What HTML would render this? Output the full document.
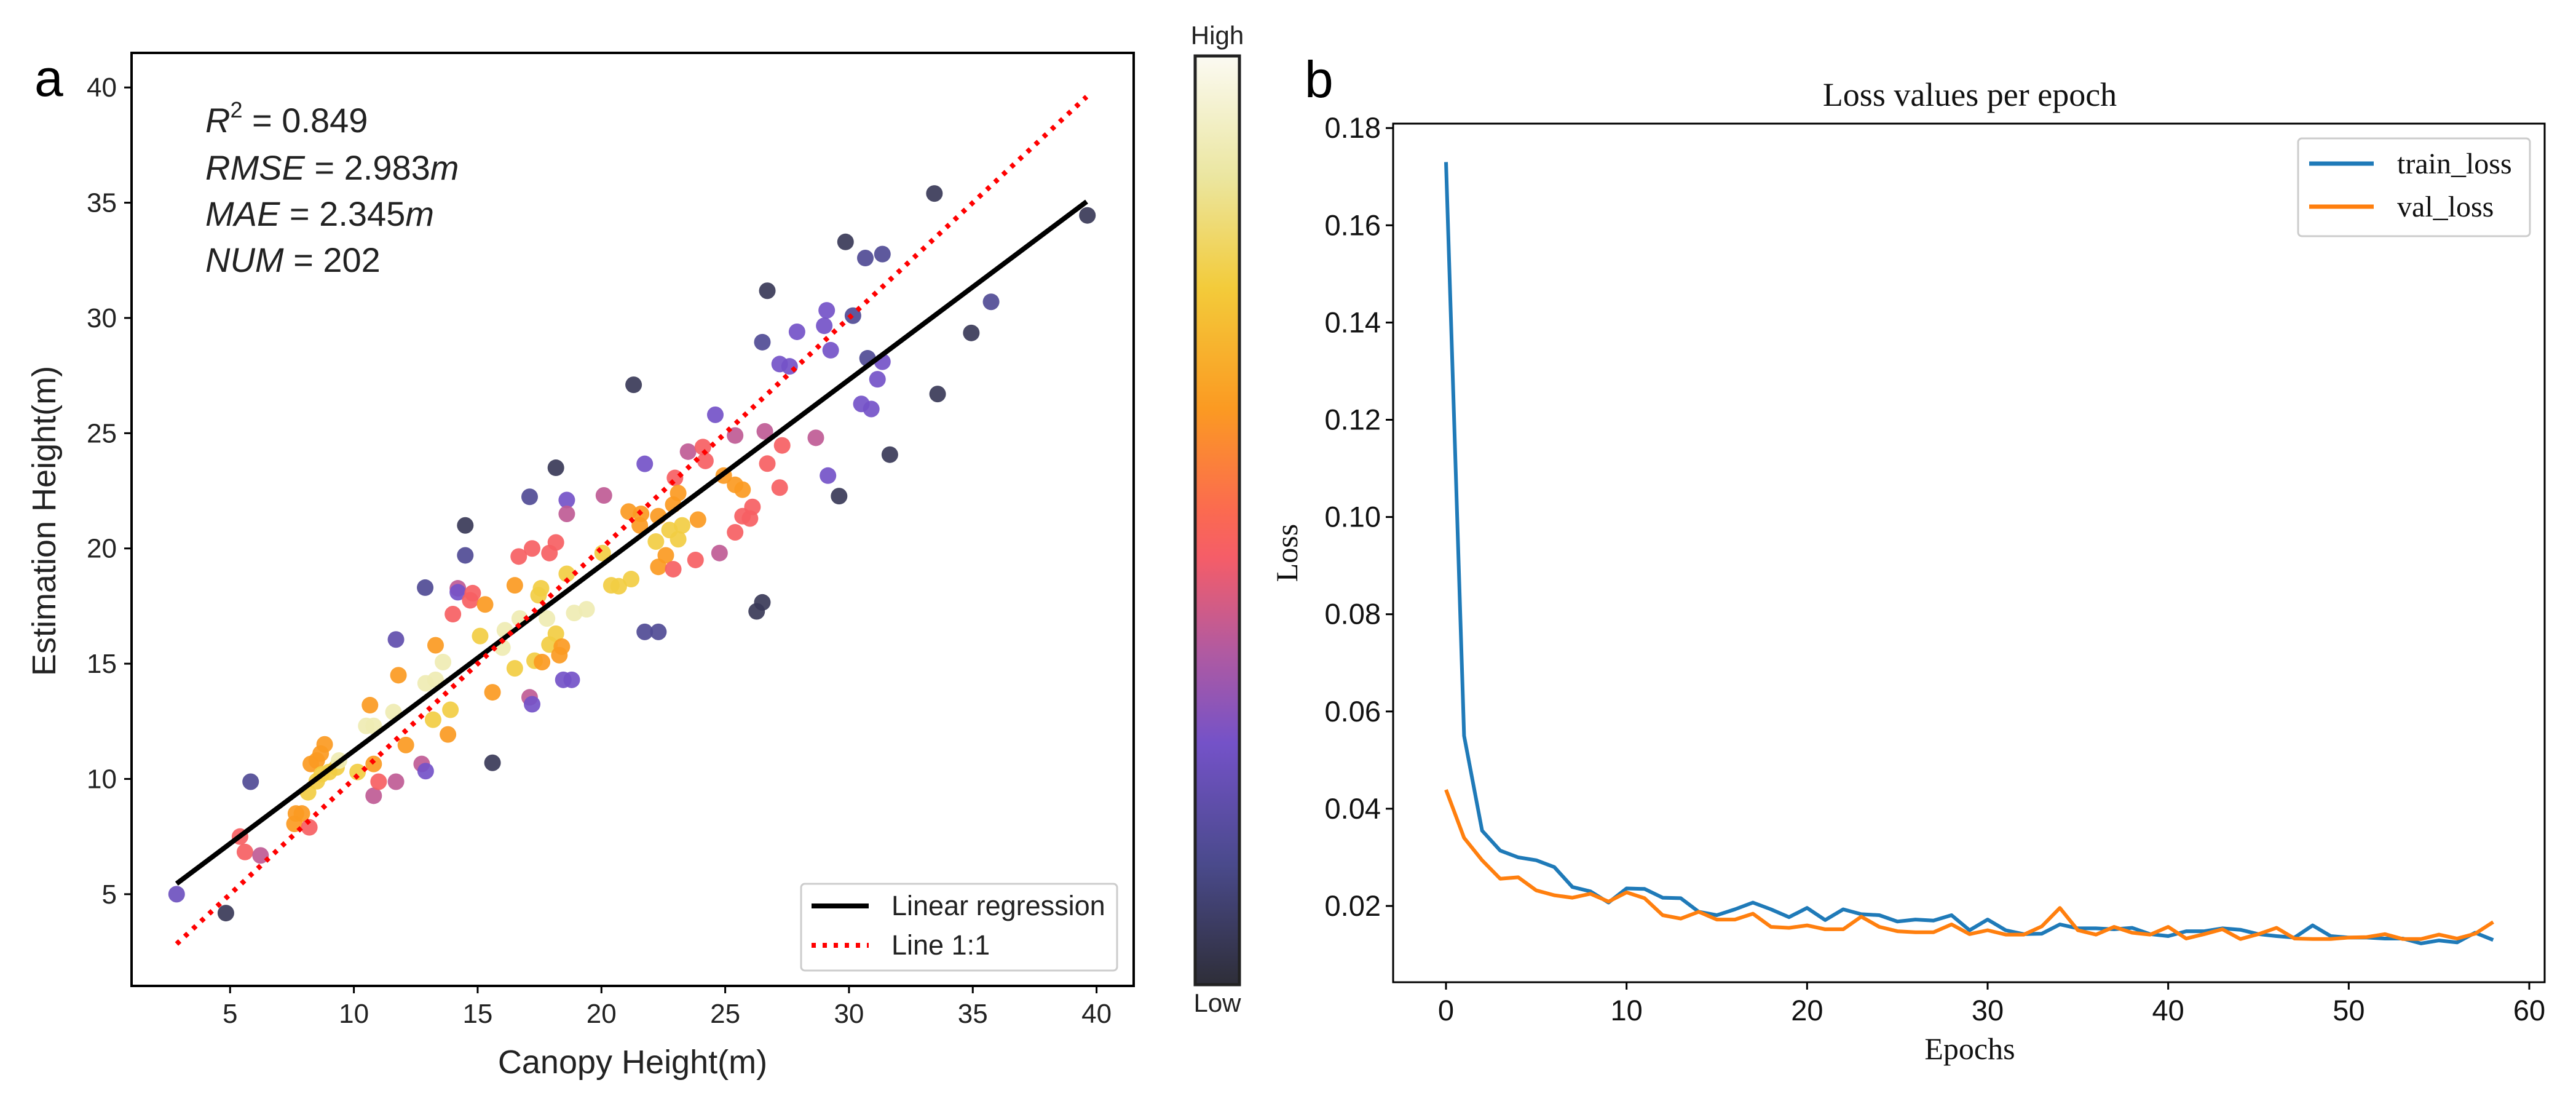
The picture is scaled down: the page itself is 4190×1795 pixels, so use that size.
<!DOCTYPE html>
<html><head><meta charset="utf-8">
<style>
html,body{margin:0;padding:0;background:#fff;}
svg{display:block;}
text{font-family:"Liberation Sans",sans-serif;}
.serif{font-family:"Liberation Serif",serif;}
</style></head>
<body>
<svg id="fig" width="4190" height="1795" viewBox="0 0 4190 1795" xmlns="http://www.w3.org/2000/svg">
<defs>
<linearGradient id="cmap" x1="0" y1="1" x2="0" y2="0">
<stop offset="0" stop-color="#2e2e38"/>
<stop offset="0.13" stop-color="#4a4a8c"/>
<stop offset="0.26" stop-color="#7452c8"/>
<stop offset="0.36" stop-color="#b25aa0"/>
<stop offset="0.46" stop-color="#f55d68"/>
<stop offset="0.51" stop-color="#fb6a50"/>
<stop offset="0.62" stop-color="#fb9a22"/>
<stop offset="0.75" stop-color="#f3cb3a"/>
<stop offset="0.87" stop-color="#ebe6a0"/>
<stop offset="1" stop-color="#fbfaf2"/>
</linearGradient>
</defs>
<g id="panelA"></g>
<g id="panelB"></g>
</svg>
<script>
// ---- Panel a data ----
const scatterX=[2.84,4.83,5.83,5.4,5.6,6.23,7.66,7.6,7.9,8.2,8.15,8.26,8.5,8.66,8.82,8.5,8.7,9.0,9.3,9.4,10.15,10.65,10.5,10.8,10.8,10.8,11.0,11.6,11.7,11.7,11.8,12.1,12.74,12.9,12.88,12.9,13.2,13.3,13.3,13.6,13.9,13.8,14.0,14.2,14.2,14.5,14.5,14.7,14.8,15.1,15.3,15.6,15.6,16.0,16.1,16.5,16.5,16.66,16.7,17.1,17.1,17.2,17.2,17.3,17.46,17.56,17.6,17.8,17.9,17.9,18.16,18.16,18.16,18.3,18.4,18.46,18.6,18.6,18.8,18.6,18.9,19.4,20.05,20.1,20.4,20.7,21.1,21.2,21.3,21.55,21.6,21.75,21.75,22.2,22.3,22.3,22.3,22.6,22.75,22.9,22.97,22.9,23.1,23.1,23.26,23.5,23.8,23.9,24.1,24.2,24.6,24.77,24.94,25.4,25.4,25.4,25.7,25.7,26.0,26.1,26.27,26.5,26.5,26.6,26.7,26.7,27.2,27.2,27.3,27.6,27.9,28.66,29.0,29.1,29.15,29.26,29.6,29.86,30.16,30.5,30.66,30.75,30.9,31.15,31.35,31.35,31.65,33.45,33.58,34.94,35.74,39.63];
const scatterY=[5.0,4.18,9.88,7.5,6.83,6.68,8.5,8.05,8.5,7.9,9.42,10.65,10.8,11.1,11.5,9.9,10.2,10.3,10.5,10.8,10.3,13.2,12.3,12.3,10.65,9.27,9.88,12.9,9.88,16.05,14.5,11.47,10.65,10.34,18.3,14.15,12.57,14.3,15.8,15.07,13.0,11.93,17.15,18.27,18.1,21.0,19.7,17.75,18.06,16.2,17.57,10.7,13.76,15.7,16.45,14.8,18.4,19.65,16.96,22.24,13.54,13.24,20.0,15.13,17.97,18.27,15.07,16.96,19.8,15.83,20.26,16.3,23.5,15.37,15.74,14.3,22.1,21.5,14.3,18.9,17.2,17.36,19.8,22.3,18.4,18.36,21.6,18.67,27.1,21.0,21.5,23.67,16.38,20.3,21.4,19.2,16.38,19.7,20.8,21.9,23.06,19.1,22.4,20.4,21.0,24.2,19.5,21.25,24.4,23.8,25.8,19.8,23.16,24.9,20.7,22.76,22.55,21.4,21.3,21.8,17.27,17.66,28.95,25.08,23.68,31.18,28.0,22.64,24.47,27.9,29.4,24.8,29.66,30.33,23.16,28.6,22.27,33.3,30.1,26.27,32.6,28.25,26.05,27.34,32.77,28.1,24.07,35.4,26.7,29.35,30.7,34.45];
const scatterC=[0.24,0.05,0.15,0.47,0.47,0.38,0.62,0.62,0.62,0.47,0.76,0.62,0.62,0.62,0.62,0.76,0.76,0.76,0.76,0.9,0.76,0.62,0.9,0.9,0.62,0.38,0.47,0.9,0.38,0.2,0.62,0.62,0.38,0.26,0.15,0.9,0.76,0.9,0.62,0.9,0.76,0.62,0.47,0.38,0.26,0.05,0.15,0.47,0.47,0.76,0.62,0.05,0.62,0.9,0.9,0.76,0.62,0.47,0.9,0.15,0.38,0.26,0.47,0.76,0.76,0.76,0.62,0.9,0.47,0.76,0.47,0.76,0.05,0.62,0.62,0.26,0.26,0.38,0.26,0.76,0.9,0.9,0.76,0.38,0.76,0.76,0.62,0.76,0.05,0.62,0.62,0.26,0.15,0.76,0.62,0.62,0.15,0.62,0.76,0.62,0.47,0.47,0.62,0.76,0.76,0.38,0.47,0.62,0.47,0.47,0.26,0.38,0.62,0.38,0.47,0.62,0.62,0.47,0.47,0.47,0.05,0.05,0.15,0.38,0.47,0.05,0.26,0.47,0.47,0.26,0.26,0.38,0.26,0.26,0.26,0.26,0.05,0.05,0.15,0.26,0.15,0.15,0.26,0.26,0.15,0.26,0.05,0.05,0.05,0.05,0.15,0.05];
const axisTicksA=[5,10,15,20,25,30,35,40];
const regSlope=0.805, regIntercept=3.17, regRange=[2.84,39.6];
const statLines=["R","RMSE","MAE","NUM"];
const statValues=["0.849","2.983","2.345","202"];

// ---- Panel b data ----
const trainLoss=[0.173,0.055,0.0355,0.0314,0.030,0.0294,0.028,0.0239,0.023,0.0207,0.0236,0.0235,0.0217,0.0216,0.0188,0.0181,0.0193,0.0207,0.0193,0.0177,0.0196,0.0171,0.0193,0.0183,0.0181,0.0168,0.0172,0.017,0.0181,0.015,0.0172,0.015,0.0142,0.0143,0.0162,0.0154,0.0154,0.0152,0.0155,0.0142,0.0138,0.0148,0.0148,0.0154,0.0151,0.0142,0.0138,0.0135,0.016,0.0138,0.0135,0.0135,0.0133,0.0133,0.0123,0.0129,0.0125,0.0145,0.013];
const valLoss=[0.0439,0.034,0.0294,0.0256,0.0259,0.0232,0.0222,0.0217,0.0225,0.0209,0.0228,0.0216,0.0181,0.0174,0.0188,0.0172,0.0172,0.0184,0.0157,0.0155,0.016,0.0152,0.0152,0.0178,0.0157,0.0148,0.0146,0.0146,0.0162,0.0142,0.015,0.0141,0.0141,0.0158,0.0196,0.015,0.0141,0.0157,0.0145,0.0141,0.0157,0.0133,0.0142,0.0152,0.0132,0.0142,0.0155,0.0133,0.0132,0.0132,0.0135,0.0136,0.0142,0.0132,0.0132,0.0141,0.0133,0.0143,0.0167];
const epochTicks=[0,10,20,30,40,50,60];
const lossTicks=[0.02,0.04,0.06,0.08,0.10,0.12,0.14,0.16,0.18];

const NS="http://www.w3.org/2000/svg";
function mk(parent,tag,attrs,text){const e=document.createElementNS(NS,tag);for(const k in attrs)e.setAttribute(k,attrs[k]);if(text!==undefined)e.textContent=text;parent.appendChild(e);return e;}

const stops=[[0,[46,46,56]],[0.13,[74,74,140]],[0.26,[116,82,200]],[0.36,[178,90,160]],[0.46,[245,93,104]],[0.51,[251,106,80]],[0.62,[251,154,34]],[0.75,[243,203,58]],[0.87,[235,230,160]],[1,[251,250,242]]];
function cmap(v){for(let i=1;i<stops.length;i++){if(v<=stops[i][0]){const a=stops[i-1],b=stops[i];const t=(v-a[0])/(b[0]-a[0]);const c=a[1].map((x,j)=>Math.round(x+(b[1][j]-x)*t));return `rgb(${c[0]},${c[1]},${c[2]})`;}}return "rgb(251,250,242)";}

// ---- Panel a ----
const A=document.getElementById('panelA');
const aL=214,aR=1844,aT=86,aB=1603,dMin=1.02,dMax=41.5;
const ax=v=>aL+(v-dMin)/(dMax-dMin)*(aR-aL);
const ay=v=>aB-(v-dMin)/(dMax-dMin)*(aB-aT);
let t;
t=mk(A,'text',{x:56,y:156,'font-size':84});t.textContent='a';

const pts=mk(A,'g',{});
for(let i=0;i<scatterX.length;i++){
  const c=mk(pts,'circle',{cx:ax(scatterX[i]),cy:ay(scatterY[i]),r:13.5,fill:cmap(scatterC[i]),'fill-opacity':0.92});
  
  
}
let ln=mk(A,'line',{x1:ax(regRange[0]),y1:ay(regSlope*regRange[0]+regIntercept),x2:ax(regRange[1]),y2:ay(regSlope*regRange[1]+regIntercept),stroke:'#000','stroke-width':8});

ln=mk(A,'line',{x1:ax(regRange[0]),y1:ay(regRange[0]),x2:ax(regRange[1]),y2:ay(regRange[1]),stroke:'#ff0000','stroke-width':8,'stroke-dasharray':'7 11'});

let fr=mk(A,'rect',{x:aL,y:aT,width:aR-aL,height:aB-aT,fill:'none',stroke:'#000','stroke-width':4});

axisTicksA.forEach(v=>{
  mk(A,'line',{x1:ax(v),y1:aB,x2:ax(v),y2:aB+12,stroke:'#000','stroke-width':3});
  const tx=mk(A,'text',{x:ax(v),y:aB+60,'font-size':44,'text-anchor':'middle',fill:'#222'},String(v));
  
  mk(A,'line',{x1:aL-12,y1:ay(v),x2:aL,y2:ay(v),stroke:'#000','stroke-width':3});
  const ty=mk(A,'text',{x:aL-24,y:ay(v)+15,'font-size':44,'text-anchor':'end',fill:'#222'},String(v));
  
});
t=mk(A,'text',{x:1029,y:1745,'font-size':54,'text-anchor':'middle',fill:'#222'},'Canopy Height(m)');

t=mk(A,'text',{x:0,y:0,'font-size':54,'text-anchor':'middle',fill:'#222',transform:'translate(90,847) rotate(-90)'},'Estimation Height(m)');

const statY=[215,292,367,442];
const st=mk(A,'g',{'font-size':56,fill:'#222'});
statLines.forEach((n,i)=>{
  const tt=mk(st,'text',{x:334,y:statY[i]});
  mk(tt,'tspan',{'font-style':'italic'},n);
  if(i===0) mk(tt,'tspan',{dy:-24,'font-size':36},'2');
  mk(tt,'tspan',{dy:i===0?24:0},' = '+statValues[i]);
  if(i===1||i===2) mk(tt,'tspan',{'font-style':'italic'},'m');
});
// legend a
const lg=mk(A,'g',{});
mk(lg,'rect',{x:1303,y:1437,width:514,height:141,rx:6,fill:'#fff',stroke:'#ccc','stroke-width':3});
mk(lg,'line',{x1:1320,y1:1473,x2:1413,y2:1473,stroke:'#000','stroke-width':8});
mk(lg,'text',{x:1450,y:1488,'font-size':45,fill:'#222'},'Linear regression');
mk(lg,'line',{x1:1320,y1:1537,x2:1413,y2:1537,stroke:'#ff0000','stroke-width':8,'stroke-dasharray':'7 11'});
mk(lg,'text',{x:1450,y:1552,'font-size':45,fill:'#222'},'Line 1:1');
// colorbar
const cb=mk(A,'g',{});
mk(cb,'rect',{x:1944,y:91,width:72,height:1510,fill:'url(#cmap)',stroke:'#222','stroke-width':5});
mk(cb,'text',{x:1980,y:72,'font-size':42,'text-anchor':'middle',fill:'#222'},'High');
mk(cb,'text',{x:1980,y:1645,'font-size':42,'text-anchor':'middle',fill:'#222'},'Low');

// ---- Panel b ----
const B=document.getElementById('panelB');
const bL=2266,bR=4139,bT=201,bB=1597;
const bx=e=>2352+e*(4114-2352)/60;
const by=v=>1473-(v-0.02)/0.02*158.1;
t=mk(B,'text',{x:2122,y:158,'font-size':84});t.textContent='b';

t=mk(B,'text',{x:3204,y:172,'font-size':54,'text-anchor':'middle',class:'serif',fill:'#111'},'Loss values per epoch');

function series(arr,color,name){
  const d=arr.map((v,i)=>(i?'L':'M')+bx(i).toFixed(1)+' '+by(v).toFixed(1)).join(' ');
  const p=mk(B,'path',{d:d,fill:'none',stroke:color,'stroke-width':6,'stroke-linejoin':'round'});
  
  
}
series(trainLoss,'#1f7ab8','train-loss-line');
series(valLoss,'#ff7f0e','val-loss-line');
fr=mk(B,'rect',{x:bL,y:bT,width:bR-bL,height:bB-bT,fill:'none',stroke:'#000','stroke-width':3});

epochTicks.forEach(e=>{
  mk(B,'line',{x1:bx(e),y1:bB,x2:bx(e),y2:bB+12,stroke:'#000','stroke-width':3});
  const tx=mk(B,'text',{x:bx(e),y:bB+62,'font-size':47,'text-anchor':'middle',fill:'#111'},String(e));
  
});
lossTicks.forEach(v=>{
  mk(B,'line',{x1:bL-12,y1:by(v),x2:bL,y2:by(v),stroke:'#000','stroke-width':3});
  const ty=mk(B,'text',{x:bL-20,y:by(v)+16,'font-size':47,'text-anchor':'end',fill:'#111'},v.toFixed(2));
  
});
t=mk(B,'text',{x:3204,y:1722,'font-size':50,'text-anchor':'middle',class:'serif',fill:'#111'},'Epochs');

t=mk(B,'text',{x:0,y:0,'font-size':50,'text-anchor':'middle',class:'serif',fill:'#111',transform:'translate(2110,899) rotate(-90)'},'Loss');

const lb=mk(B,'g',{});
mk(lb,'rect',{x:3738,y:225,width:377,height:159,rx:6,fill:'#fff',stroke:'#ccc','stroke-width':3});
mk(lb,'line',{x1:3756,y1:266,x2:3861,y2:266,stroke:'#1f7ab8','stroke-width':7});
mk(lb,'text',{x:3899,y:282,'font-size':48,class:'serif',fill:'#111'},'train_loss');
mk(lb,'line',{x1:3756,y1:336,x2:3861,y2:336,stroke:'#ff7f0e','stroke-width':7});
mk(lb,'text',{x:3899,y:352,'font-size':48,class:'serif',fill:'#111'},'val_loss');
</script>
</body></html>
